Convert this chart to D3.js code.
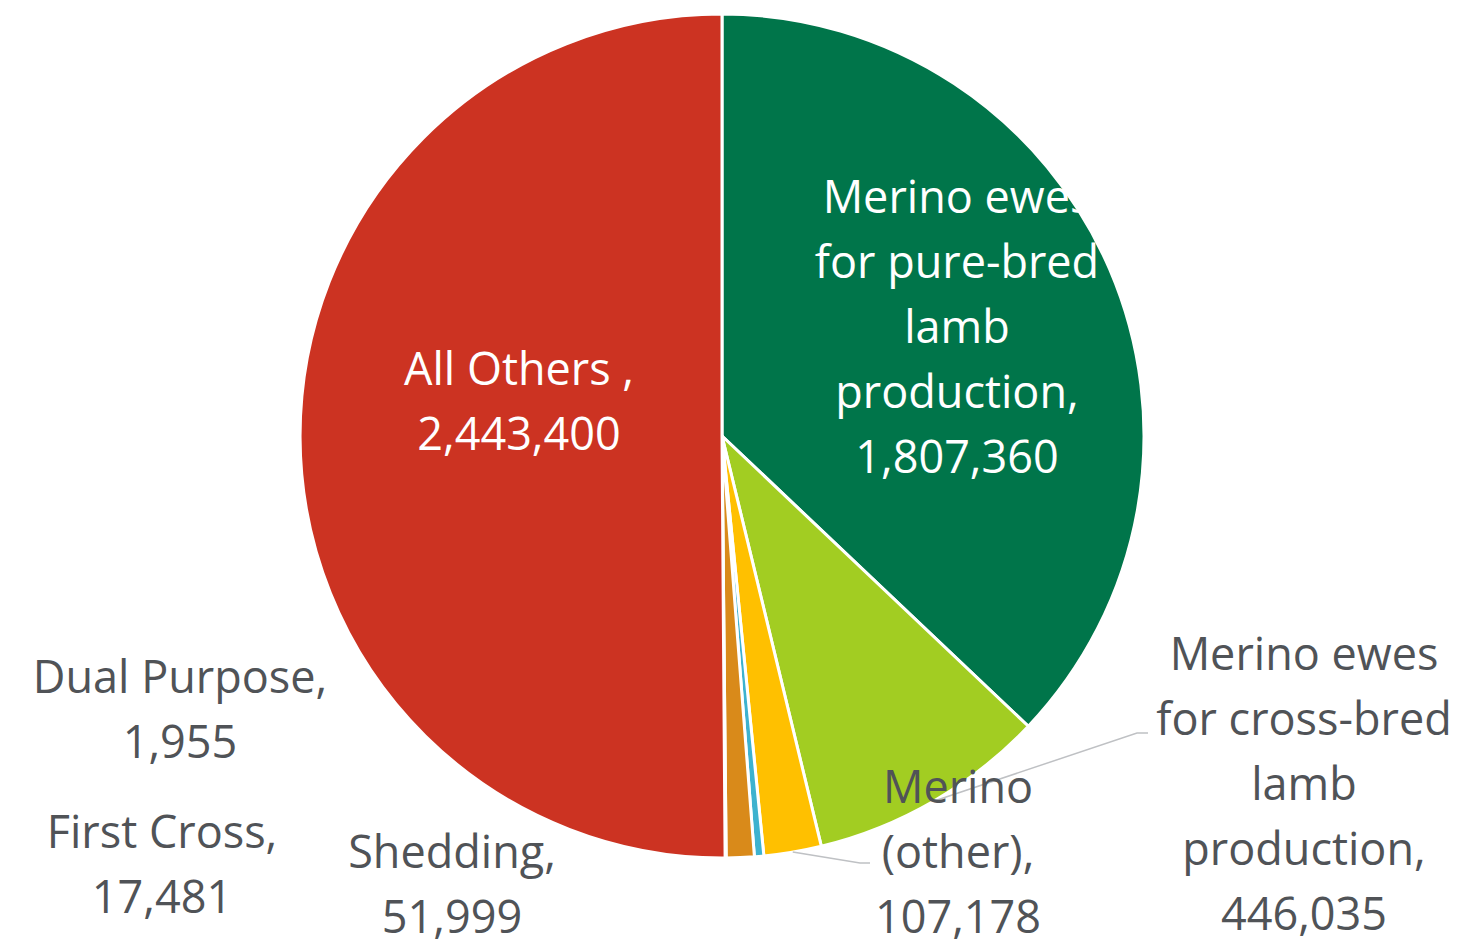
<!DOCTYPE html>
<html>
<head>
<meta charset="utf-8">
<script src="https://cdn.jsdelivr.net/npm/d3@7"></script>
<style>
  html, body { margin: 0; padding: 0; background: #ffffff; }
  svg { display: block; }
  text { font-family: "Open Sans", Lato, "Noto Sans", sans-serif; }
</style>
</head>
<body>
<svg id="chart" width="1457" height="950"></svg>
<script>
// ---- Data ----
const categories = [
  "Merino ewes for pure-bred lamb production",
  "Merino ewes for cross-bred lamb production",
  "Merino (other)",
  "First Cross",
  "Shedding",
  "Dual Purpose",
  "All Others "
];
const values = [1807360, 446035, 107178, 17481, 51999, 1955, 2443400];
const labelLines = [
  ["Merino ewes", "for pure-bred", "lamb", "production,"],
  ["Merino ewes", "for cross-bred", "lamb", "production,"],
  ["Merino", "(other),"],
  ["First Cross,"],
  ["Shedding,"],
  ["Dual Purpose,"],
  ["All Others ,"]
];

// ---- Styles / layout (not data) ----
const colors = ["#00754A", "#A2CD22", "#FFC000", "#3DB2CF", "#D98A1A", "#9E9E9E", "#CC3322"];
const cx = 722, cy = 436, R = 422;
const labelLayout = [
  { x: 957, y: 213, fill: "#ffffff" },
  { x: 1304, y: 670, fill: "#505357", leader: [[1148, 733], [1137, 733]] },
  { x: 958, y: 803, fill: "#505357", leader: [[870, 863], [860, 863]] },
  { x: 162, y: 848, fill: "#505357" },
  { x: 452, y: 868, fill: "#505357" },
  { x: 180, y: 693, fill: "#505357" },
  { x: 519, y: 385, fill: "#ffffff" }
];
const lineHeight = 65;
const fontSize = 45;

const fmt = d3.format(",");
const svg = d3.select("#chart");

const data = categories.map((c, i) => ({ name: c, value: values[i], i }));
const pie = d3.pie().value(d => d.value).sort(null);
const arcs = pie(data);
const arc = d3.arc().innerRadius(0).outerRadius(R);

const g = svg.append("g").attr("transform", `translate(${cx},${cy})`);
g.selectAll("path.slice")
  .data(arcs)
  .enter().append("path")
  .attr("class", "slice")
  .attr("d", arc)
  .attr("fill", d => colors[d.data.i])
  .attr("stroke", "#ffffff")
  .attr("stroke-width", 3)
  .attr("stroke-linejoin", "round");

// leader lines (end point on the arc at slice mid-angle)
arcs.forEach(a => {
  const L = labelLayout[a.data.i];
  if (!L.leader) return;
  const mid = (a.startAngle + a.endAngle) / 2;
  const ex = cx + Math.sin(mid) * R, ey = cy - Math.cos(mid) * R;
  const pts = L.leader.concat([[ex, ey]]);
  svg.append("path")
    .attr("d", d3.line()(pts))
    .attr("fill", "none")
    .attr("stroke", "#BFC1C4")
    .attr("stroke-width", 1.5);
});

// labels
arcs.forEach(a => {
  const i = a.data.i;
  const L = labelLayout[i];
  const lines = labelLines[i].concat([fmt(values[i])]);
  const t = svg.append("text")
    .attr("text-anchor", "middle")
    .attr("font-size", fontSize)
    .attr("fill", L.fill);
  lines.forEach((ln, k) => {
    t.append("tspan").attr("x", L.x).attr("y", L.y + k * lineHeight).text(ln);
  });
});
</script>
</body>
</html>
